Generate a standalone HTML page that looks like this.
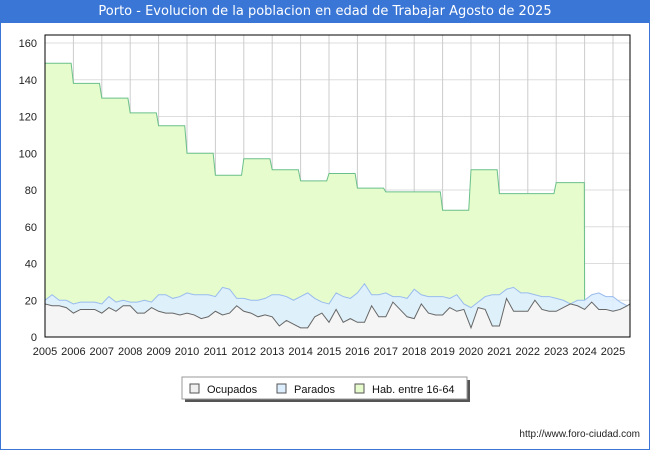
<!DOCTYPE html>
<html><head><meta charset="utf-8"><style>
body{margin:0;width:650px;height:450px;overflow:hidden;background:#fff;font-family:"Liberation Sans","DejaVu Sans",sans-serif;}
#wrap{position:absolute;left:0;top:0;width:648px;height:448px;border:1px solid #3a76d6;}
#title{position:absolute;left:0;top:0;width:650px;height:23px;background:#3a76d6;color:#fff;font-size:13px;line-height:23px;text-align:center;font-family:"DejaVu Sans",sans-serif;}
svg{position:absolute;left:0;top:0}
</style></head><body>
<div id="wrap"></div>
<div id="title">Porto - Evolucion de la poblacion en edad de Trabajar Agosto de 2025</div>
<svg id="chart" width="650" height="450"></svg>
<script>
const years=[2005,2006,2007,2008,2009,2010,2011,2012,2013,2014,2015,2016,2017,2018,2019,2020,2021,2022,2023,2024,2025];
const yTicks=[0,20,40,60,80,100,120,140,160];
const hab=[149,138,130,122,115,100,88,97,91,85,89,81,79,79,69,91,78,78,84,null,null];
const ocupados=[18,17,17,16,13,15,15,15,13,16,14,17,17,13,13,16,14,13,13,12,13,12,10,11,14,12,13,17,14,13,11,12,11,6,9,7,5,5,11,13,8,15,8,10,8,8,17,11,11,19,15,11,10,18,13,12,12,16,14,15,5,16,15,6,6,21,14,14,14,20,15,14,14,16,18,17,15,19,15,15,14,15,17];
const parados=[2,6,3,4,5,4,4,4,5,6,5,3,2,6,7,3,9,10,8,10,11,11,13,12,8,15,13,4,7,7,9,9,12,17,13,13,17,19,10,6,10,9,14,11,16,21,6,12,13,3,7,10,16,5,9,10,10,5,9,3,11,3,7,17,17,5,13,10,10,3,7,8,7,4,0,3,5,4,9,7,8,4,0];
const NS='http://www.w3.org/2000/svg';
const svg=document.getElementById('chart');
const X0=45,X1=630,Y0=337,YT=35;
const xs=t=>X0+(t-2005)*28.4;
const ys=v=>Y0-v*1.8375;
function mk(tag,attrs,parent){const e=document.createElementNS(NS,tag);for(const k in attrs)e.setAttribute(k,attrs[k]);(parent||svg).appendChild(e);return e;}
// grid
yTicks.forEach(v=>{const l=mk('line',{x1:X0,x2:X1,y1:ys(v),y2:ys(v),stroke:'#dddddd','stroke-width':1});


const t=mk('text',{x:37,y:ys(v)+4,'text-anchor':'end','font-size':11,fill:'#222'});t.textContent=v;

});
years.forEach(y=>{const l=mk('line',{x1:xs(y),x2:xs(y),y1:YT,y2:Y0,stroke:'#cccccc','stroke-width':1});


const t=mk('text',{x:xs(y),y:Y0+18,'text-anchor':'middle','font-size':11,fill:'#222'});t.textContent=y;

});
const tq=i=>2005+i*0.25;
const tops=ocupados.map((o,i)=>o+parados[i]);
function topAt(t){const f=(t-2005)/0.25;const i=Math.min(Math.floor(f),tops.length-2);const r=f-i;return tops[i]*(1-r)+tops[i+1]*r;}
// hab area
let hp=[];
for(let k=0;k<hab.length;k++){if(hab[k]==null)continue;const y=years[k];
 if(hp.length===0)hp.push([xs(y),ys(hab[k])]);
 const nxt=hab[k+1];
 if(nxt!=null){hp.push([xs(y+0.92),ys(hab[k])]);hp.push([xs(y+1),ys(nxt)]);}
 else{hp.push([xs(y+0.99),ys(hab[k])]);hp.push([xs(y+1),ys(topAt(y+1))]);}
}
const hx=hp[hp.length-1][0];
const hArea='M'+X0+','+Y0+' L'+hp.map(p=>p.join(',')).join(' L')+' L'+hx+','+Y0+' Z';
const ha=mk('path',{d:hArea,fill:'#e6fccc',stroke:'none'});


const hl=mk('polyline',{points:hp.map(p=>p.join(',')).join(' '),fill:'none',stroke:'#6ac08a','stroke-width':1});


// parados area
const tp=tops.map((v,i)=>xs(tq(i))+','+ys(v));
const pa=mk('path',{d:'M'+xs(2005)+','+Y0+' L'+tp.join(' L')+' L'+xs(tq(tops.length-1))+','+Y0+' Z',fill:'#ddeeff','fill-opacity':0.9,stroke:'none'});


const pl=mk('polyline',{points:tp.join(' '),fill:'none',stroke:'#99bbee','stroke-width':1});


// ocupados
const op=ocupados.map((v,i)=>xs(tq(i))+','+ys(v));
op.push(X1+','+ys(ocupados[ocupados.length-1]+1));
const oa=mk('path',{d:'M'+xs(2005)+','+Y0+' L'+op.join(' L')+' L'+X1+','+Y0+' Z',fill:'#f5f5f5',stroke:'none'});


const ol=mk('polyline',{points:op.join(' '),fill:'none',stroke:'#666','stroke-width':1});


const fr=mk('rect',{x:X0,y:YT,width:X1-X0,height:Y0-YT,fill:'none',stroke:'#000','stroke-width':1});


// legend
const lg=mk('g',{});


mk('rect',{x:185,y:380,width:285,height:22,fill:'#555'},lg);
mk('rect',{x:182,y:377,width:285,height:22,fill:'#fff',stroke:'#999'},lg);
const items=[['Ocupados','#f0f0f0',190],['Parados','#ddeeff',277],['Hab. entre 16-64','#e6fccc',355]];
items.forEach(it=>{const g=mk('g',{},lg);


mk('rect',{x:it[2],y:384,width:9,height:9,fill:it[1],stroke:'#555'},g);
const t=mk('text',{x:it[2]+17,y:393,'font-size':11,fill:'#111'},g);t.textContent=it[0];});
const u=mk('text',{x:640,y:437,'text-anchor':'end','font-size':10,fill:'#222'});u.textContent='http://www.foro-ciudad.com';


</script>
</body></html>
